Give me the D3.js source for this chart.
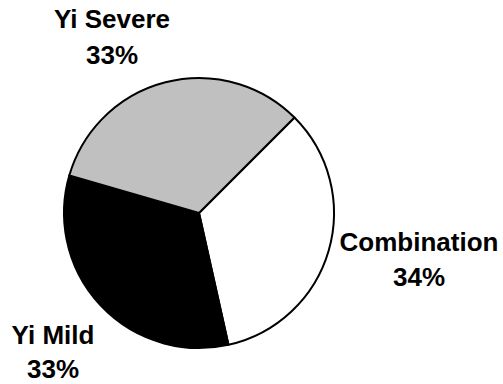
<!DOCTYPE html>
<html>
<head>
<meta charset="utf-8">
<script src="https://cdn.jsdelivr.net/npm/d3@7"></script>
<style>
  html, body { margin: 0; padding: 0; background: #fff; }
  svg { display: block; }
  text { font-family: "Liberation Sans", Arial, sans-serif; font-weight: bold; font-size: 26px; fill: #000; }
</style>
</head>
<body>
<svg id="chart" width="503" height="384"></svg>
<script>
// Share of patients by group
const categories = ["Combination", "Yi Mild", "Yi Severe"];
const values = [34, 33, 33];
const sliceColors = ["#ffffff", "#000000", "#c0c0c0"];

const width = 503, height = 384;
const cx = 199, cy = 213, radius = 135;

// label centre points (two lines: name, percentage)
const labelLayout = [
  { x: 419, y1: 251, y2: 286 },
  { x: 53, y1: 344, y2: 378 },
  { x: 112, y1: 28, y2: 64 }
];

const svg = d3.select("#chart");

const pie = d3.pie()
  .sort(null)
  .value(d => d)
  .startAngle(Math.PI / 4)
  .endAngle(Math.PI / 4 + 2 * Math.PI);

const arc = d3.arc().innerRadius(0).outerRadius(radius);

const color = d3.scaleOrdinal().domain(categories).range(sliceColors);

const g = svg.append("g").attr("transform", `translate(${cx},${cy})`);

g.selectAll("path")
  .data(pie(values))
  .join("path")
  .attr("d", arc)
  .attr("fill", (d, i) => color(categories[i]))
  .attr("stroke", "#000")
  .attr("stroke-width", 2)
  .attr("stroke-linejoin", "round");

const total = d3.sum(values);
const fmt = v => Math.round(v / total * 100) + "%";

const labels = svg.append("g").attr("text-anchor", "middle");
categories.forEach((c, i) => {
  const L = labelLayout[i];
  labels.append("text").attr("x", L.x).attr("y", L.y1).text(c);
  labels.append("text").attr("x", L.x).attr("y", L.y2).text(fmt(values[i]));
});
</script>
</body>
</html>
